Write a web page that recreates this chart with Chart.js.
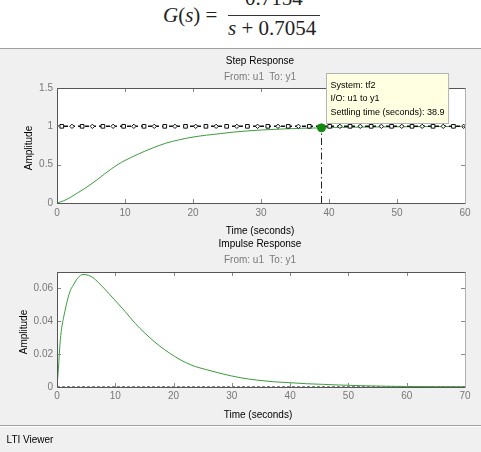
<!DOCTYPE html>
<html>
<head>
<meta charset="utf-8">
<script src="https://cdn.jsdelivr.net/npm/chart.js@4.4.0/dist/chart.umd.min.js"></script>
<style>
    html, body { margin: 0; padding: 0; }
    body {
        width: 481px; height: 452px; position: relative; overflow: hidden;
        background: #ffffff; font-family: Arial, "Liberation Sans", sans-serif;
    }
    #panel {
        position: absolute; left: 0; top: 48px; width: 481px; height: 404px;
        background: #f0f0f0; border-top: 1px solid #a0a0a0;
    }
    #footerLine {
        position: absolute; left: 0; top: 425px; width: 481px; height: 0;
        border-top: 1px solid #a0a0a0; border-bottom: 1px solid #ffffff;
    }
    canvas { position: absolute; left: 0; }
    .lbl {
        position: absolute; white-space: nowrap; font-size: 10px; color: #000;
        transform: translate(-50%, -50%);
    }
    .sub { color: #7a7a7a; }
    .ylbl { transform: translate(-50%, -50%) rotate(-90deg); }
    .eq {
        position: absolute; white-space: nowrap; color: #222;
        font-family: "Liberation Serif", "DejaVu Serif", serif; font-size: 21px; line-height: 21px;
    }
    .eq i { font-style: italic; }
</style>
</head>
<body>
<div class="eq" style="left:163px; top:5px;"><i>G</i>(<i>s</i>) =</div>
<div class="eq" style="left:245px; top:-12px;">0.7154</div>
<div style="position:absolute; left:228px; top:15px; width:92px; height:1px; background:#333;"></div>
<div class="eq" style="left:228px; top:18px;"><i>s</i> + 0.7054</div>

<div id="panel"></div>
<div id="footerLine"></div>

<canvas id="stepChart" width="481" height="165" style="top:60px;"></canvas>
<canvas id="impulseChart" width="481" height="160" style="top:250px;"></canvas>

<div class="lbl" style="left:260px; top:60px;">Step Response</div>
<div class="lbl sub" style="left:260px; top:76px;">From: u1&nbsp; To: y1</div>
<div class="lbl ylbl" style="left:28px; top:148px;">Amplitude</div>
<div class="lbl" style="left:260px; top:230px;">Time (seconds)</div>

<div class="lbl" style="left:260px; top:243px;">Impulse Response</div>
<div class="lbl sub" style="left:260px; top:259px;">From: u1&nbsp; To: y1</div>
<div class="lbl ylbl" style="left:23px; top:332px;">Amplitude</div>
<div class="lbl" style="left:258px; top:414px;">Time (seconds)</div>

<div class="lbl" style="left:30px; top:439px;">LTI Viewer</div>

<script>
// Step response
const stepTime = [0, 1, 2, 3, 4, 5, 6, 7, 8, 9, 10, 12, 14, 16, 18, 20, 22, 24, 26, 28, 30, 33, 36, 38.9, 42, 46, 50, 55, 60];
const stepAmp = [0, 0.03, 0.075, 0.13, 0.185, 0.245, 0.31, 0.38, 0.445, 0.505, 0.555, 0.64, 0.715, 0.78, 0.825, 0.86, 0.885, 0.905, 0.925, 0.94, 0.952, 0.965, 0.975, 0.98, 0.986, 0.991, 0.994, 0.997, 0.998];

// Impulse response
const impTime = [0, 0.25, 0.5, 0.8, 1.1, 1.6, 2.2, 2.8, 3.6, 4.5, 5.4, 6.2, 7.1, 8.2, 9.9, 11.7, 13.4, 15.1, 16.8, 18.5, 20.2, 22, 23.7, 25.7, 28.5, 31.4, 34.3, 37.1, 40, 42.8, 45.7, 48.5, 52, 56, 60, 65, 70];
const impAmp = [0, 0.0115, 0.0257, 0.0358, 0.0418, 0.050, 0.058, 0.062, 0.0665, 0.0685, 0.068, 0.0665, 0.0636, 0.0596, 0.053, 0.0459, 0.0388, 0.0327, 0.0273, 0.0226, 0.0186, 0.0150, 0.0125, 0.0105, 0.0079, 0.0057, 0.0042, 0.0032, 0.0026, 0.002, 0.0016, 0.0012, 0.0008, 0.0005, 0.0003, 0.0002, 0.0001];

// Settling time characteristic
const finalValue = 1;
const settleTime = 38.9;
const settleAmp = 0.98;
const settleNote = ['System: tf2', 'I/O: u1 to y1', 'Settling time (seconds): 38.9'];

// Marker positions along the steady-state line
const steadyRectT = [0.7, 3.7, 6.75, 9.8, 12.8, 15.85, 18.9, 21.9, 24.95, 28, 31, 34, 37.1, 40.1, 43.1, 46.2, 49.2, 52.2, 55.3, 58.3];
const steadyDiamT = [2.2, 5.2, 8.25, 11.3, 14.3, 17.35, 20.4, 23.4, 26.45, 29.5, 32.5, 35.5, 38.6, 41.6, 44.6, 47.7, 50.7, 53.7, 56.8, 59.8];

// Axis ranges and ticks
const stepXMax = 60, stepYMax = 1.5, stepYStep = 0.5;
const impXMax = 70, impYMax = 0.07, impYStep = 0.02;
const xStep = 10;

const lineGreen = '#3c9c3c';
const tickColor = '#777777';

function pairs(xs, ys) {
    return xs.map((x, i) => ({ x: x, y: ys[i] }));
}

// White plot area, box and inward tick marks like MATLAB axes
const matlabAxes = {
    id: 'matlabAxes',
    beforeDraw(chart) {
        const a = chart.chartArea;
        const ctx = chart.ctx;
        ctx.save();
        ctx.fillStyle = '#ffffff';
        ctx.fillRect(a.left, a.top, a.right - a.left, a.bottom - a.top);
        ctx.restore();
    },
    afterDatasetsDraw(chart) {
        const a = chart.chartArea;
        const ctx = chart.ctx;
        const len = 4;
        ctx.save();
        ctx.strokeStyle = '#888888';
        ctx.lineWidth = 1;
        ctx.beginPath();
        chart.scales.x.ticks.forEach(t => {
            const px = Math.round(chart.scales.x.getPixelForValue(t.value)) + 0.5;
            ctx.moveTo(px, a.bottom); ctx.lineTo(px, a.bottom - len);
            ctx.moveTo(px, a.top); ctx.lineTo(px, a.top + len);
        });
        chart.scales.y.ticks.forEach(t => {
            const py = Math.round(chart.scales.y.getPixelForValue(t.value)) + 0.5;
            ctx.moveTo(a.left, py); ctx.lineTo(a.left + len, py);
            ctx.moveTo(a.right, py); ctx.lineTo(a.right - len, py);
        });
        ctx.stroke();
        // box
        ctx.strokeStyle = '#555555';
        ctx.beginPath();
        ctx.moveTo(a.left + 0.5, a.bottom + 0.5);
        ctx.lineTo(a.left + 0.5, a.top + 0.5);
        ctx.lineTo(a.right + 0.5, a.top + 0.5);
        ctx.moveTo(a.left + 0.5, a.bottom + 0.5);
        ctx.lineTo(a.right + 0.5, a.bottom + 0.5);
        ctx.stroke();
        ctx.strokeStyle = '#b0b0b0';
        ctx.beginPath();
        ctx.moveTo(a.right + 0.5, a.top + 0.5);
        ctx.lineTo(a.right + 0.5, a.bottom + 0.5);
        ctx.stroke();
        ctx.restore();
    }
};

// Data tip box next to the settling time marker
const settleTip = {
    id: 'settleTip',
    afterDraw(chart) {
        const ctx = chart.ctx;
        const px = chart.scales.x.getPixelForValue(settleTime);
        const py = chart.scales.y.getPixelForValue(settleAmp);
        ctx.save();
        ctx.font = '9px Arial, "Liberation Sans", sans-serif';
        const w = Math.max(...settleNote.map(s => ctx.measureText(s).width)) + 8;
        const h = 50;
        const left = Math.round(px + 4) + 0.5;
        const top = Math.round(py - 5 - h) + 0.5;
        ctx.fillStyle = '#ffffe1';
        ctx.fillRect(left, top, w, h);
        ctx.strokeStyle = '#b4b4b4';
        ctx.strokeRect(left, top, w, h);
        ctx.fillStyle = '#000000';
        ctx.textBaseline = 'middle';
        settleNote.forEach((s, i) => {
            ctx.fillText(s, left + 4, top + 12 + i * 13.3);
        });
        ctx.restore();
    }
};

// MATLAB style tick text: 1, 0.5, 0, 0.02 ...
function plainTick(value) {
    return String(parseFloat(value.toFixed(4)));
}

function axisOptions(xMax, yMax, yStep, xPad, xHeight) {
    return {
        x: {
            type: 'linear', min: 0, max: xMax,
            grid: { display: false, drawTicks: false },
            border: { display: false },
            ticks: { stepSize: xStep, color: tickColor, padding: xPad, maxRotation: 0,
                     font: { size: 10, family: 'Arial' }, callback: plainTick },
            afterFit: s => { s.height = xHeight; }
        },
        y: {
            type: 'linear', min: 0, max: yMax,
            grid: { display: false, drawTicks: false },
            border: { display: false },
            ticks: { stepSize: yStep, includeBounds: false, color: tickColor, padding: 4,
                     font: { size: 10, family: 'Arial' }, callback: plainTick },
            afterFit: s => { s.width = 57; }
        }
    };
}

function initializeStepChart() {
    const ctx = document.getElementById('stepChart');
    new Chart(ctx, {
        type: 'line',
        data: {
            datasets: [
                {
                    data: [{ x: settleTime, y: settleAmp }],
                    showLine: false, pointRadius: 4,
                    pointBackgroundColor: '#0f8a0f', pointBorderColor: '#0f8a0f', order: 0
                },
                {
                    data: steadyRectT.map(t => ({ x: t, y: finalValue })),
                    showLine: false, pointStyle: 'rect', pointRadius: 2.6,
                    pointBackgroundColor: '#ffffff', pointBorderColor: '#111111', pointBorderWidth: 1, order: 1
                },
                {
                    data: steadyDiamT.map(t => ({ x: t, y: finalValue })),
                    showLine: false, pointStyle: 'rectRot', pointRadius: 2.2,
                    pointBackgroundColor: '#ffffff', pointBorderColor: '#111111', pointBorderWidth: 1, order: 1
                },
                {
                    data: [{ x: 0, y: finalValue }, { x: stepXMax, y: finalValue }],
                    borderColor: '#111111', borderWidth: 1.5, borderDash: [4, 3],
                    pointRadius: 0, order: 2
                },
                {
                    data: [{ x: settleTime, y: 0 }, { x: settleTime, y: settleAmp }],
                    borderColor: '#222222', borderWidth: 1, borderDash: [7, 3, 1.5, 3],
                    pointRadius: 0, order: 3
                },
                {
                    data: pairs(stepTime, stepAmp),
                    borderColor: lineGreen, borderWidth: 1, pointRadius: 0,
                    cubicInterpolationMode: 'monotone', order: 4
                }
            ]
        },
        options: {
            responsive: false, animation: false, devicePixelRatio: 1,
            layout: { padding: { top: 28, right: 16, left: 0, bottom: 0 } },
            plugins: { legend: { display: false }, tooltip: { enabled: false } },
            scales: axisOptions(stepXMax, stepYMax, stepYStep, 4, 22)
        },
        plugins: [matlabAxes, settleTip]
    });
}

function initializeImpulseChart() {
    const ctx = document.getElementById('impulseChart');
    new Chart(ctx, {
        type: 'line',
        data: {
            datasets: [
                {
                    data: pairs(impTime, impAmp),
                    borderColor: lineGreen, borderWidth: 1, pointRadius: 0,
                    cubicInterpolationMode: 'monotone', order: 1
                },
                {
                    data: [{ x: 0, y: 0 }, { x: impXMax, y: 0 }],
                    borderColor: '#111111', borderWidth: 1, borderDash: [3, 2],
                    pointRadius: 0, order: 2
                }
            ]
        },
        options: {
            responsive: false, animation: false, devicePixelRatio: 1,
            layout: { padding: { top: 22, right: 16, left: 0, bottom: 0 } },
            plugins: { legend: { display: false }, tooltip: { enabled: false } },
            scales: axisOptions(impXMax, impYMax, impYStep, 3, 23)
        },
        plugins: [matlabAxes]
    });
}

initializeStepChart();
initializeImpulseChart();
</script>
</body>
</html>
